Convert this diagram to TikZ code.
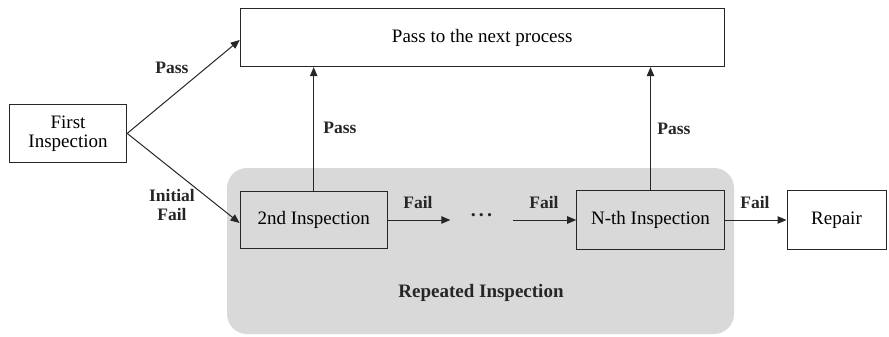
\documentclass[tikz,border=0pt]{standalone}
\usepackage{fontspec}
\setmainfont{Liberation Serif}
\usetikzlibrary{arrows.meta}
\definecolor{ink}{HTML}{262626}
\definecolor{panel}{HTML}{D9D9D9}
\tikzset{
  box/.style={draw=ink, line width=1pt, inner sep=2pt, align=center,
    font=\fontsize{19}{21}\selectfont},
  lbl/.style={align=center, inner sep=0pt, text=ink,
    font=\fontsize{17.5}{19.5}\selectfont\bfseries},
  flow/.style={draw=ink, line width=1pt, -{Triangle[length=9pt,width=7.5pt]}},
}
\begin{document}
\begin{tikzpicture}[x=1pt, y=-1pt]
  \useasboundingbox (0,0) rectangle (889,337);
  % shaded region holding the repeated inspections
  \fill[panel, rounded corners=20pt] (227,168) rectangle (734,334);
  \node[lbl, font=\fontsize{19}{21}\selectfont\bfseries] (rep) at (481,293) {Repeated Inspection};

  % boxes
  \node[box, fill=white, minimum width=484pt, minimum height=58.4pt] (top) at (482.2,37.5) {Pass to the next process};
  \node[box, fill=white, minimum width=117.4pt, minimum height=58.7pt] (first) at (68,133.4) {First\\[-2pt]Inspection};
  \node[box, minimum width=147.3pt, minimum height=57.8pt] (second) at (313.7,220) {2nd Inspection};
  \node[box, minimum width=147.6pt, minimum height=58.3pt] (nth) at (650.5,220) {N-th Inspection};
  \node[box, fill=white, minimum width=99pt, minimum height=58.3pt] (repair) at (836.5,220) {Repair};
  \node[inner sep=0pt, minimum width=62pt, minimum height=10pt, text=ink,
        font=\fontsize{20}{22}\selectfont\bfseries] (dots) at (481.5,217.7)
        {\raisebox{4.5pt}{.\hspace{3.2pt}.\hspace{3.2pt}.}};

  % connectors
  \draw[flow] (first.east) -- ([yshift=-2.5pt]top.west);
  \draw[flow] (first.east) -- ([yshift=-3pt]second.west);
  \draw[flow] (second.north) -- (second.north |- top.south);
  \draw[flow] (nth.north) -- (nth.north |- top.south);
  \draw[flow] (second.east) -- (dots.west |- second.east);
  \draw[flow] (dots.east |- nth.west) -- (nth.west);
  \draw[flow] (nth.east) -- (repair.west);

  % connector labels
  \node[lbl] (lpass) at (172,68) {Pass};
  \node[lbl] (lfail0) at (172,205) {Initial\\Fail};
  \node[lbl] (lpass2) at (340,128) {Pass};
  \node[lbl] (lpassn) at (674,129) {Pass};
  \node[lbl] (lfail1) at (418,203) {Fail};
  \node[lbl] (lfail2) at (544,203) {Fail};
  \node[lbl] (lfail3) at (755,203) {Fail};
\end{tikzpicture}
\end{document}
